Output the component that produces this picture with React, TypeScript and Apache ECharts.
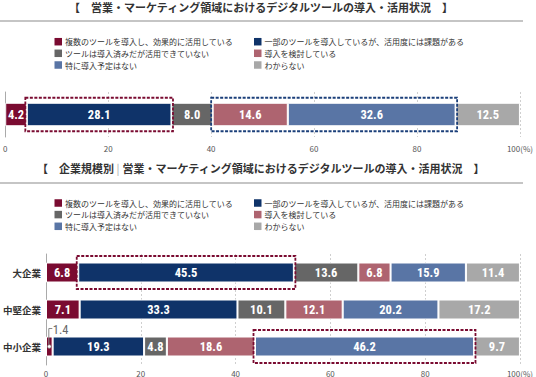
import { useEffect, useRef } from 'react';
import * as echarts from 'echarts';

const SERIES_NAMES = [
  '複数のツールを導入し、効果的に活用している',
  '一部のツールを導入しているが、活用度には課題がある',
  'ツールは導入済みだが活用できていない',
  '導入を検討している',
  '特に導入予定はない',
  'わからない',
];
const SERIES_COLORS = ['#7a0b31', '#0f3369', '#666666', '#ae6470', '#5975a5', '#a8a8a8'];

const OVERALL_CATEGORY = ['全体'];
const OVERALL_VALUES = [4.2, 28.1, 8.0, 14.6, 32.6, 12.5];

const SIZE_CATEGORIES = ['大企業', '中堅企業', '中小企業'];
const SIZE_MULTI_ACTIVE = [6.8, 7.1, 1.4];
const SIZE_PARTIAL = [45.5, 33.3, 19.3];
const SIZE_NOT_USED = [13.6, 10.1, 4.8];
const SIZE_CONSIDERING = [6.8, 12.1, 18.6];
const SIZE_NO_PLAN = [15.9, 20.2, 46.2];
const SIZE_UNKNOWN = [11.4, 17.2, 9.7];
const SIZE_SERIES = [SIZE_MULTI_ACTIVE, SIZE_PARTIAL, SIZE_NOT_USED, SIZE_CONSIDERING, SIZE_NO_PLAN, SIZE_UNKNOWN];

const X_MIN = 0;
const X_MAX = 100;
const X_INTERVAL = 20;

const TITLE_1 = '【　営業・マーケティング領域におけるデジタルツールの導入・活用状況　】';
const TITLE_2_PREFIX = '【　企業規模別 ';
const TITLE_2_MAIN = '営業・マーケティング領域におけるデジタルツールの導入・活用状況　】';

const JP_FONT = '"Noto Sans CJK JP", "Noto Sans", sans-serif';
const NUM_FONT = '"Roboto Condensed", "Liberation Sans Narrow", Roboto, sans-serif';

export default function App() {
  const ref = useRef<HTMLDivElement>(null);

  useEffect(() => {
    document.body.style.margin = '0';
    const el = ref.current!;
    const chart = echarts.init(el, null, { renderer: 'svg' });

    const labelCfg = {
      show: true,
      position: 'inside',
      color: '#ffffff',
      fontSize: 12.5,
      fontWeight: 'bold',
      fontFamily: NUM_FONT,
      formatter: (p: any) => Number(p.value).toFixed(1),
    };

    const xAxisBase = (gridIndex: number, margin: number) => ({
      type: 'value',
      gridIndex,
      min: X_MIN,
      max: X_MAX,
      interval: X_INTERVAL,
      axisLine: { show: false },
      axisTick: { show: false },
      splitLine: { show: true, lineStyle: { color: '#cfcfcf', type: [2, 2], width: 1 } },
      axisLabel: {
        fontSize: 8,
        color: '#555',
        margin,
        fontFamily: JP_FONT,
        formatter: (v: number) => (v === X_MAX ? `${v}(%)` : `${v}`),
      },
    });

    const overallSeries = SERIES_NAMES.map((name, i) => ({
      name,
      type: 'bar',
      stack: 'overall',
      xAxisIndex: 0,
      yAxisIndex: 0,
      barWidth: 23.5,
      itemStyle: { color: SERIES_COLORS[i], borderColor: '#ffffff', borderWidth: 1 },
      label: labelCfg,
      data: [OVERALL_VALUES[i]],
    }));

    const sizeSeries = SERIES_NAMES.map((name, i) => ({
      name,
      type: 'bar',
      stack: 'size',
      xAxisIndex: 1,
      yAxisIndex: 1,
      barWidth: 20,
      itemStyle: { color: SERIES_COLORS[i], borderColor: '#ffffff', borderWidth: 1 },
      label: labelCfg,
      data: SIZE_SERIES[i].map((v) => (v < 3 ? { value: v, label: { show: false } } : v)),
    }));

    const legendItem = (left: number, centerY: number, name: string) => ({
      left,
      top: centerY - 4,
      orient: 'horizontal',
      padding: 0,
      itemWidth: 7.5,
      itemHeight: 7.5,
      icon: 'rect',
      itemStyle: { borderWidth: 0 },
      selectedMode: false,
      textStyle: { fontSize: 8, lineHeight: 8, color: '#333', fontFamily: JP_FONT, padding: [0, 0, 0, -2] },
      data: [name],
    });
    const COL_X = [54.5, 254];
    const ROWS_1 = [41.7, 53.3, 65];
    const ROWS_2 = [203, 214.6, 226.3];
    const legends: any[] = [];
    [ROWS_1, ROWS_2].forEach((rows) => {
      SERIES_NAMES.forEach((name, i) => {
        legends.push(legendItem(COL_X[i % 2], rows[Math.floor(i / 2)], name));
      });
    });

    chart.setOption({
      animation: false,
      textStyle: { fontFamily: JP_FONT },
      legend: legends,
      grid: [
        { left: 3, width: 519, top: 92, height: 45 },
        { left: 39, width: 483, top: 254, height: 111 },
      ],
      xAxis: [xAxisBase(0, 7), xAxisBase(1, 4)],
      yAxis: [
        {
          type: 'category',
          gridIndex: 0,
          data: OVERALL_CATEGORY,
          axisLine: { show: true, lineStyle: { color: '#aaa' } },
          axisTick: { show: false },
          axisLabel: { show: false },
        },
        {
          type: 'category',
          gridIndex: 1,
          inverse: true,
          data: SIZE_CATEGORIES,
          axisLine: { show: true, lineStyle: { color: '#aaa' } },
          axisTick: { show: false },
          axisLabel: { fontSize: 9.5, color: '#333', fontWeight: 'bold', margin: 5, fontFamily: JP_FONT },
        },
      ],
      series: [...overallSeries, ...sizeSeries],
    });

    const px = (xi: number, value: number, catIdx: number) =>
      chart.convertToPixel({ xAxisIndex: xi, yAxisIndex: xi } as any, [value, catIdx]) as number[];

    const cumStart = (vals: number[], idx: number) => vals.slice(0, idx).reduce((a, b) => a + b, 0);

    const dashedBox = (
      xi: number,
      catIdx: number,
      startVal: number,
      endVal: number,
      barW: number,
      padX: number,
      padY: number,
      color: string,
    ) => {
      const a = px(xi, startVal, catIdx);
      const b = px(xi, endVal, catIdx);
      return {
        type: 'rect',
        z: 20,
        shape: {
          x: a[0] - padX,
          y: a[1] - barW / 2 - padY,
          width: b[0] - a[0] + padX * 2,
          height: barW + padY * 2,
        },
        style: { fill: 'none', stroke: color, lineWidth: 1.8, lineDash: [3, 1.5] },
      };
    };

    const overallRow = OVERALL_VALUES;
    const sizeRow = (catIdx: number) => SIZE_SERIES.map((s) => s[catIdx]);

    const small = sizeRow(2);
    const smallCenter = px(1, small[0] / 2, 2);

    chart.setOption({
      graphic: [
        {
          type: 'text',
          x: 261,
          y: 7,
          style: {
            text: TITLE_1,
            align: 'center',
            verticalAlign: 'middle',
            fontSize: 11,
            fontWeight: 'bold',
            fontFamily: JP_FONT,
            fill: '#333',
          },
        },
        { type: 'line', shape: { x1: 0, y1: 21, x2: 523, y2: 21 }, style: { stroke: '#8c8c8c', lineWidth: 1.2 } },
        {
          type: 'text',
          x: 261,
          y: 168,
          style: {
            text: `{a|${TITLE_2_PREFIX}}{sep||}{a| ${TITLE_2_MAIN}}`,
            align: 'center',
            verticalAlign: 'middle',
            rich: {
              a: { fontSize: 11, fontWeight: 'bold', fontFamily: JP_FONT, fill: '#333' },
              sep: { fontSize: 11, fontFamily: JP_FONT, fill: '#aaa' },
            },
          },
        },
        { type: 'line', shape: { x1: 0, y1: 183, x2: 523, y2: 183 }, style: { stroke: '#8c8c8c', lineWidth: 1.2 } },
        dashedBox(0, 0, cumStart(overallRow, 1), cumStart(overallRow, 2), 23.5, 1.5, 5, '#7a0b31'),
        dashedBox(0, 0, cumStart(overallRow, 3), cumStart(overallRow, 5), 23.5, 1.5, 5, '#1b3f7a'),
        dashedBox(1, 0, cumStart(sizeRow(0), 1), cumStart(sizeRow(0), 2), 20, 1.5, 6.5, '#7a0b31'),
        dashedBox(1, 2, cumStart(small, 4), cumStart(small, 5), 20, 1.5, 6.5, '#7a0b31'),
        {
          type: 'polyline',
          z: 21,
          shape: {
            points: [
              [smallCenter[0] - 0.5, smallCenter[1] - 2],
              [smallCenter[0] - 0.5, smallCenter[1] - 18],
              [smallCenter[0] + 3, smallCenter[1] - 18],
            ],
          },
          style: { stroke: '#888', lineWidth: 1, fill: 'none' },
        },
        {
          type: 'circle',
          z: 22,
          shape: { cx: smallCenter[0], cy: smallCenter[1], r: 1.8 },
          style: { fill: '#fff', stroke: '#888', lineWidth: 0.8 },
        },
        {
          type: 'text',
          z: 22,
          x: smallCenter[0] + 3.5,
          y: smallCenter[1] - 17.5,
          style: {
            text: small[0].toFixed(1),
            align: 'left',
            verticalAlign: 'middle',
            fontSize: 12.5,
            fontFamily: NUM_FONT,
            fill: '#666',
          },
        },
      ],
    });

    return () => chart.dispose();
  }, []);

  return <div ref={ref} style={{ width: 536, height: 377 }} />;
}
